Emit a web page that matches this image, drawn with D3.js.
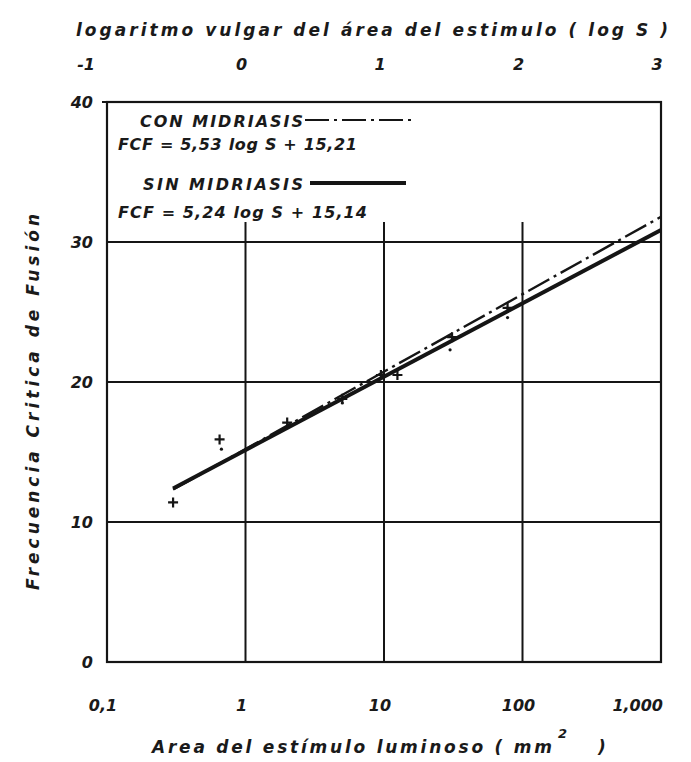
<!DOCTYPE html>
<html>
<head>
<meta charset="utf-8">
<script src="https://cdn.jsdelivr.net/npm/d3@7"></script>
<style>
  html, body { margin: 0; padding: 0; background: #fff; }
  svg { display: block; }
  text { font-family: "DejaVu Sans", sans-serif; font-style: italic; fill: #1a1a1a; }
</style>
</head>
<body>
<svg id="chart" width="691" height="762"></svg>
<script>
// Stimulus area (mm²) ticks and labels on the bottom log axis
const areaTicks = [0.1, 1, 10, 100, 1000];
const areaLabels = ["0,1", "1", "10", "100", "1,000"];
// log S ticks on the top axis
const logTicks = [-1, 0, 1, 2, 3];
const logLabels = ["-1", "0", "1", "2", "3"];
// Critical fusion frequency ticks
const fcfTicks = [0, 10, 20, 30, 40];
const fcfGrid = [10, 20, 30];
const areaGrid = [1, 10, 100];

// Regression lines: FCF = slope · log S + intercept
const seriesNames = ["CON MIDRIASIS", "SIN MIDRIASIS"];
const seriesEquations = ["FCF = 5,53 log S + 15,21", "FCF = 5,24 log S + 15,14"];
const seriesSlope = [5.53, 5.24];
const seriesIntercept = [15.21, 15.14];
const fitRange = [0.3, 1000];

// Measured points (area mm², FCF)
const crossArea = [0.3, 0.65, 2, 5, 9.5, 12.5, 31, 78];
const crossFcf  = [11.4, 15.9, 17.1, 18.8, 20.5, 20.5, 23.2, 25.3];
const dotArea = [0.67, 5, 30, 78];
const dotFcf  = [15.2, 18.5, 22.3, 24.6];

const svg = d3.select("#chart");
const ink = "#151515";

const x = d3.scaleLog().domain([0.1, 1000]).range([107, 661]);
const xTop = d3.scaleLinear().domain([-1, 3]).range([107, 661]);
const y = d3.scaleLinear().domain([0, 40]).range([662, 102]);

const gridTop = 222; // vertical grid lines start below the legend block

// horizontal grid
svg.append("g").selectAll("line").data(fcfGrid).join("line")
  .attr("x1", x(0.1)).attr("x2", x(1000))
  .attr("y1", d => y(d)).attr("y2", d => y(d))
  .attr("stroke", ink).attr("stroke-width", 2);

// vertical grid
svg.append("g").selectAll("line").data(areaGrid).join("line")
  .attr("x1", d => x(d)).attr("x2", d => x(d))
  .attr("y1", gridTop).attr("y2", y(0))
  .attr("stroke", ink).attr("stroke-width", 2);

// frame
svg.append("rect")
  .attr("x", x(0.1)).attr("y", y(40))
  .attr("width", x(1000) - x(0.1)).attr("height", y(0) - y(40))
  .attr("fill", "none").attr("stroke", ink).attr("stroke-width", 2.2);

// small outer tick at top of y axis
svg.append("line")
  .attr("x1", x(0.1) - 5).attr("x2", x(0.1))
  .attr("y1", y(40)).attr("y2", y(40))
  .attr("stroke", ink).attr("stroke-width", 2);

// y tick labels
svg.append("g").selectAll("text").data(fcfTicks).join("text")
  .attr("x", 93).attr("y", d => y(d) + 6)
  .attr("text-anchor", "end")
  .attr("font-size", 16).attr("font-weight", "bold")
  .text(d => d);

// bottom tick labels
svg.append("g").selectAll("text").data(areaTicks).join("text")
  .attr("x", (d, i) => i === areaTicks.length - 1 ? x(d) + 2 : x(d) - 4)
  .attr("y", 711)
  .attr("text-anchor", (d, i) => i === areaTicks.length - 1 ? "end" : "middle")
  .attr("font-size", 16).attr("font-weight", "bold")
  .text((d, i) => areaLabels[i]);

// top tick labels (log S)
svg.append("g").selectAll("text").data(logTicks).join("text")
  .attr("x", (d, i) => i === 0 ? xTop(d) - 12 : xTop(d) - 4)
  .attr("y", 70)
  .attr("text-anchor", (d, i) => i === 0 ? "end" : "middle")
  .attr("font-size", 16).attr("font-weight", "bold")
  .text((d, i) => logLabels[i]);

// axis titles
svg.append("text")
  .attr("x", 76).attr("y", 36)
  .attr("font-size", 17).attr("font-weight", "bold")
  .attr("textLength", 592).attr("lengthAdjust", "spacing")
  .text("logaritmo vulgar del área del estimulo ( log S )");

svg.append("text")
  .attr("x", 152).attr("y", 753)
  .attr("font-size", 17).attr("font-weight", "bold")
  .attr("textLength", 400).attr("lengthAdjust", "spacing")
  .text("Area del estímulo luminoso ( mm");
svg.append("text")
  .attr("x", 558).attr("y", 738)
  .attr("font-size", 13).attr("font-weight", "bold")
  .text("2");
svg.append("text")
  .attr("x", 598).attr("y", 753)
  .attr("font-size", 17).attr("font-weight", "bold")
  .text(")");

svg.append("text")
  .attr("transform", "translate(39,590) rotate(-90)")
  .attr("font-size", 17).attr("font-weight", "bold")
  .attr("textLength", 376).attr("lengthAdjust", "spacing")
  .text("Frecuencia Critica de Fusión");

// regression lines
const line = d3.line().x(d => x(d[0])).y(d => y(d[1]));
const fitPoints = i => fitRange.map(s => [s, seriesSlope[i] * Math.log10(s) + seriesIntercept[i]]);

svg.append("path")
  .datum(fitPoints(1))
  .attr("d", line)
  .attr("fill", "none").attr("stroke", ink).attr("stroke-width", 4);

svg.append("path")
  .datum(fitPoints(0))
  .attr("d", line)
  .attr("fill", "none").attr("stroke", ink).attr("stroke-width", 2.4)
  .attr("stroke-dasharray", "24,5,3,5");

// data points drawn as plus signs
const plus = {
  draw(ctx, size) {
    const r = Math.sqrt(size) / 2;
    ctx.moveTo(-r, 0); ctx.lineTo(r, 0);
    ctx.moveTo(0, -r); ctx.lineTo(0, r);
  }
};
svg.append("g").selectAll("path").data(crossArea).join("path")
  .attr("transform", (d, i) => `translate(${x(d)},${y(crossFcf[i])})`)
  .attr("d", d3.symbol().type(plus).size(100))
  .attr("fill", "none").attr("stroke", ink).attr("stroke-width", 2.2);

svg.append("g").selectAll("circle").data(dotArea).join("circle")
  .attr("cx", d => x(d)).attr("cy", (d, i) => y(dotFcf[i]))
  .attr("r", 1.6).attr("fill", ink);

// legend
const legendText = [
  { t: seriesNames[0], x: 140, y: 127, len: 163 },
  { t: seriesEquations[0], x: 118, y: 150, len: 239 },
  { t: seriesNames[1], x: 143, y: 190, len: 160 },
  { t: seriesEquations[1], x: 118, y: 218, len: 249 }
];
svg.append("g").selectAll("text").data(legendText).join("text")
  .attr("x", d => d.x).attr("y", d => d.y)
  .attr("font-size", 16).attr("font-weight", "bold")
  .attr("textLength", d => d.len).attr("lengthAdjust", "spacing")
  .text(d => d.t);

svg.append("line")
  .attr("x1", 305).attr("x2", 412).attr("y1", 120).attr("y2", 120)
  .attr("stroke", ink).attr("stroke-width", 2.2)
  .attr("stroke-dasharray", "24,5,3,5");
svg.append("line")
  .attr("x1", 310).attr("x2", 406).attr("y1", 183).attr("y2", 183)
  .attr("stroke", ink).attr("stroke-width", 4);
</script>
</body>
</html>
